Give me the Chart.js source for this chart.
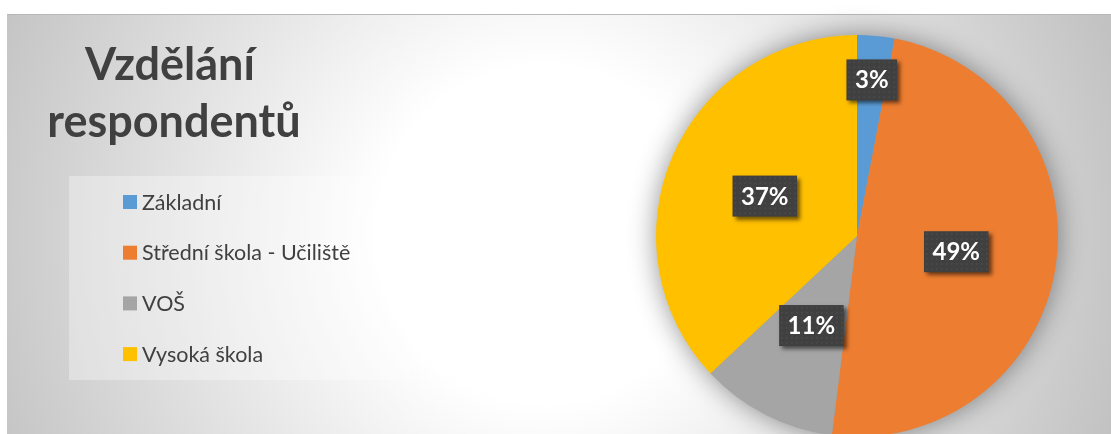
<!DOCTYPE html>
<html>
<head>
<meta charset="utf-8">
<script src="https://cdn.jsdelivr.net/npm/chart.js@4"></script>
<style>
  html, body { margin: 0; padding: 0; overflow: hidden; background: #fff; }
  #wrap { position: absolute; left: 0; top: 0; width: 1111px; height: 440px; }
</style>
</head>
<body>
<div id="wrap"><canvas id="chart"></canvas></div>
<script>
// data
const titleLines = ["Vzdělání", "respondentů"];
const categories = ["Základní", "Střední škola - Učiliště", "VOŠ", "Vysoká škola"];
const shares = [3, 49, 11, 37];
const colours = ["#5B9BD5", "#ED7D31", "#A5A5A5", "#FFC000"];

const textColour = "#404040";

// background of the chart object (radial gradient + frame)
const background = {
  id: "background",
  beforeDraw(chart) {
    const c = chart.ctx;
    const w = chart.width, h = chart.height;
    c.save();
    c.fillStyle = "#ffffff";
    c.fillRect(0, 0, w, h);
    const g = c.createRadialGradient(545, 235, 0, 545, 235, 600);
    g.addColorStop(0, "#ffffff");
    g.addColorStop(0.28, "#ffffff");
    g.addColorStop(1, "#c2c2c2");
    c.fillStyle = g;
    c.fillRect(7, 14, w - 7, h - 14);
    c.fillStyle = "#b8b8b8";
    c.fillRect(7, 14, w - 7, 1);
    c.restore();
  }
};

// title and legend on the left
const sidePanel = {
  id: "sidePanel",
  afterDraw(chart) {
    const c = chart.ctx;
    c.save();
    c.fillStyle = textColour;
    c.textAlign = "center";
    c.textBaseline = "alphabetic";
    c.font = "bold 45px Lato";
    c.fillText(titleLines[0], 170, 80);
    c.fillText(titleLines[1], 174, 137);

    // legend box
    c.fillStyle = "rgba(255,255,255,0.32)";
    c.fillRect(69, 176, 341, 204);
    c.font = "21.5px Lato";
    c.textAlign = "left";
    chart.data.labels.forEach((lab, i) => {
      const y = 202 + i * 50.7;
      c.fillStyle = chart.data.datasets[0].backgroundColor[i];
      c.fillRect(123, y - 7, 14, 14);
      c.fillStyle = textColour;
      c.fillText(lab, 142, y + 7.5);
    });
    c.restore();
  }
};

// soft shadow behind the pie
const pieShadow = {
  id: "pieShadow",
  beforeDatasetsDraw(chart) {
    const arc = chart.getDatasetMeta(0).data[0];
    if (!arc) return;
    const c = chart.ctx;
    c.save();
    c.shadowColor = "rgba(0,0,0,0.45)";
    c.shadowBlur = 28;
    c.fillStyle = "#999";
    c.beginPath();
    c.arc(arc.x, arc.y, arc.outerRadius - 1, 0, Math.PI * 2);
    c.fill();
    c.restore();
  }
};

// dark percentage labels
const pctLabels = {
  id: "pctLabels",
  afterDatasetsDraw(chart) {
    const c = chart.ctx;
    const vals = chart.data.datasets[0].data;
    c.save();
    c.font = "bold 24px Lato";
    c.textAlign = "center";
    c.textBaseline = "alphabetic";
    chart.getDatasetMeta(0).data.forEach((arc, i) => {
      const mid = (arc.startAngle + arc.endAngle) / 2;
      const span = arc.endAngle - arc.startAngle;
      const r = arc.outerRadius * (span < 0.4 ? 0.78 : 0.5);
      const x = arc.x + Math.cos(mid) * r;
      const y = arc.y + Math.sin(mid) * r;
      const txt = vals[i] + "%";
      const bw = c.measureText(txt).width + 17;
      const bh = 41;
      const bx = x - bw / 2, by = y - bh / 2;
      c.save();
      c.shadowColor = "rgba(0,0,0,0.55)";
      c.shadowBlur = 4;
      c.shadowOffsetX = 3;
      c.shadowOffsetY = 3;
      c.fillStyle = "#404040";
      c.fillRect(bx, by, bw, bh);
      c.restore();
      // dotted texture
      c.fillStyle = "rgba(255,255,255,0.07)";
      for (let dx = 2; dx < bw - 1; dx += 5) {
        for (let dy = 2; dy < bh - 1; dy += 5) {
          c.fillRect(bx + dx, by + dy, 1.5, 1.5);
        }
      }
      c.fillStyle = "#ffffff";
      c.fillText(txt, x, y + 8.5);
    });
    c.restore();
  }
};

const ctx = document.getElementById("chart");

new Chart(ctx, {
  type: "pie",
  data: {
    labels: categories,
    datasets: [{
      data: shares,
      backgroundColor: colours,
      borderWidth: 0
    }]
  },
  options: {
    responsive: true,
    maintainAspectRatio: false,
    animation: false,
    layout: {
      padding: { left: 656, right: 53, top: 35, bottom: 3 }
    },
    plugins: {
      legend: { display: false },
      tooltip: { enabled: false },
      title: { display: false }
    }
  },
  plugins: [background, pieShadow, pctLabels, sidePanel]
});
</script>
</body>
</html>
